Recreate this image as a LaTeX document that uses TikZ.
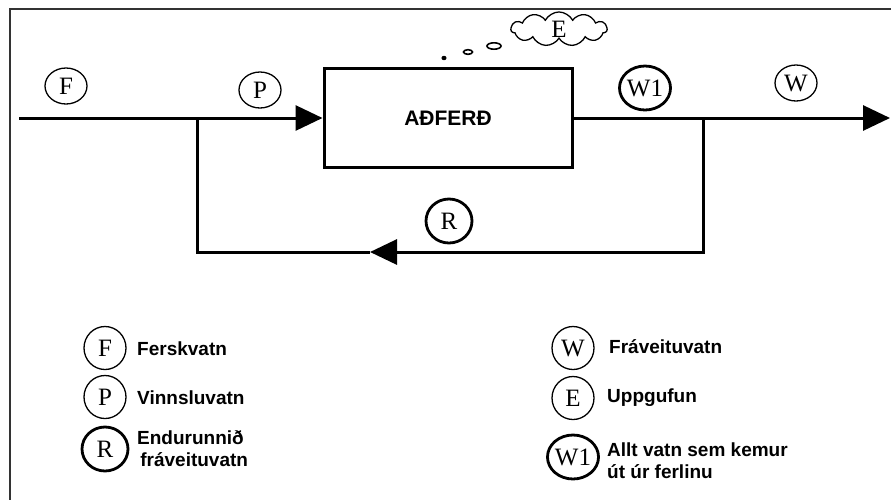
\documentclass[tikz,border=0pt]{standalone}
\usepackage{fontspec}
\setmainfont{Liberation Sans}
\newfontfamily\letterfont{Liberation Serif}
\usepackage{tikz}
\usetikzlibrary{arrows.meta,shapes.geometric,shapes.symbols}

\begin{document}
\begin{tikzpicture}[x=1pt,y=-1pt,
        flow/.style={line width=3pt},
        tip/.style={-{Triangle[length=27pt,width=25pt]}},
        tag/.style={ellipse,draw,line width=1.3pt,minimum width=42pt,minimum height=36pt,
            inner sep=0pt,font=\letterfont\fontsize{25}{25}\selectfont},
        bigtag/.style={tag,minimum height=43pt},
        boldtag/.style={tag,line width=2.8pt,minimum width=46pt,minimum height=44pt},
        legtext/.style={anchor=west,align=left,inner sep=0pt,
            font=\bfseries\fontsize{19}{22}\selectfont}]
    \useasboundingbox (0,0) rectangle (891,499);
    % frame, cut off at the right and bottom
    \draw[line width=1.6pt,black!80] (900,9) -- (10,9) -- (10,510);

    % process and flow lines
    \node[draw,line width=3pt,minimum width=248pt,minimum height=99pt,
        font=\bfseries\fontsize{21}{21}\selectfont] (proc) at (448,118) {AĐFERĐ};
    \coordinate (in) at (19,118);
    \coordinate (split) at (197,118);
    \coordinate (join) at (703,118);
    \coordinate (outend) at (890,118);
    \coordinate (bl) at (197,252);
    \coordinate (br) at (703,252);
    \coordinate (rtip) at (370,252);

    \draw[flow,tip] (in) -- (proc.west);
    \draw[flow,tip] (proc.east) -- (outend);
    \draw[flow] (split) -- (bl) -- (rtip);
    \draw[flow,tip] (join) -- (br) -- (rtip);

    % labels on the lines
    \node[tag] (f) at (66,86) {F};
    \node[tag] (p) at (260,90) {P};
    \node[boldtag] (w1) at (645,88) {W1};
    \node[tag] (w) at (796,83) {W};
    \node[boldtag] (r) at (449,221) {R};

    % evaporation
    \node[cloud,draw,line width=1.3pt,cloud puffs=11,cloud puff arc=125,aspect=3,
        minimum width=96pt,minimum height=32pt,inner sep=0pt,
        font=\letterfont\fontsize{25}{25}\selectfont] (e) at (559,29) {E};
    \fill (444,58) ellipse (2.6 and 2.2);
    \draw[line width=1.6pt] (468,52) ellipse (4.5 and 2.3);
    \draw[line width=1.6pt] (494,46) ellipse (7 and 3.2);

    % legend
    \node[bigtag] (lf) at (105,348) {F};
    \node[legtext] (tf) at (137,349) {Ferskvatn};
    \node[bigtag] (lp) at (105,397) {P};
    \node[legtext] (tp) at (137,398) {Vinnsluvatn};
    \node[boldtag] (lr) at (105,449) {R};
    \node[legtext] (tr) at (137,449) {Endurunnið\\\,fráveituvatn};

    \node[bigtag] (lw) at (573,348) {W};
    \node[legtext] (tw) at (609,347) {Fráveituvatn};
    \node[bigtag] (le) at (573,398) {E};
    \node[legtext] (te) at (607,398) {Uppgufun};
    \node[boldtag] (lw1) at (573,457) {W1};
    \node[legtext] (tw1) at (607,461) {Allt vatn sem kemur\\út úr ferlinu};
\end{tikzpicture}
\end{document}
